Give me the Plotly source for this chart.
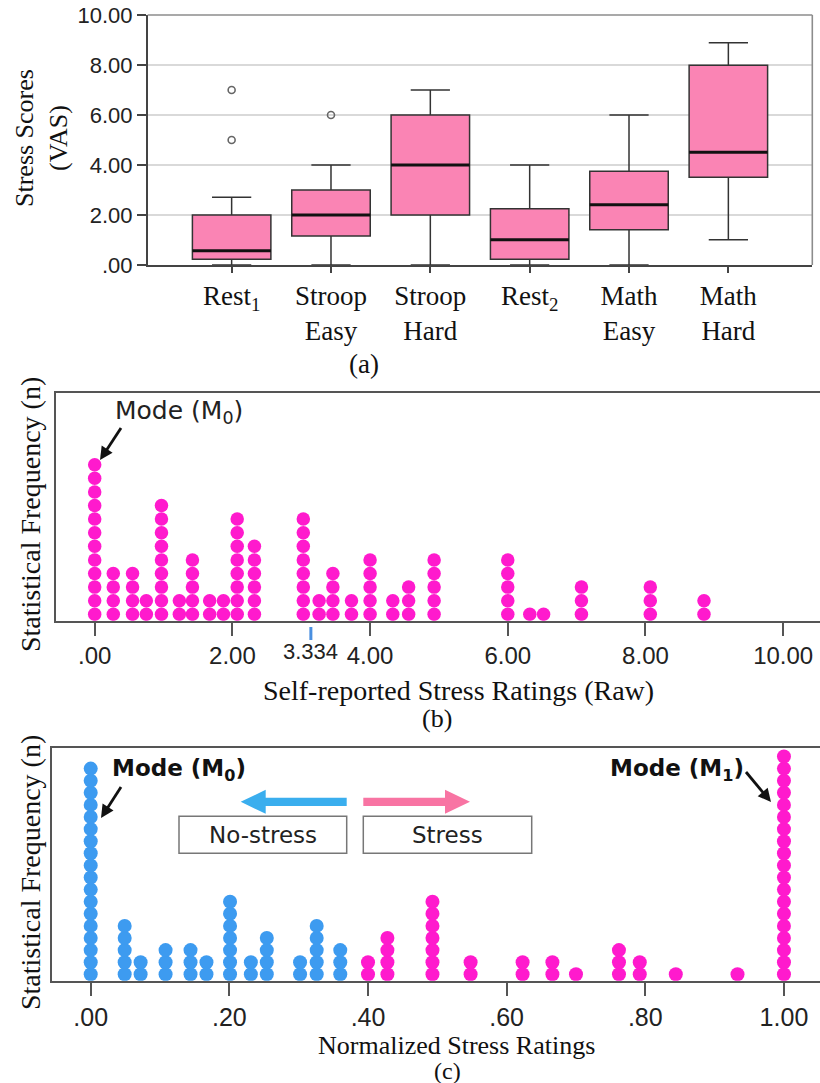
import math
import plotly.graph_objects as go

# ---------------- data ----------------
# Panel (a): box plot summary statistics
conditions = ["Rest<sub>1</sub>", "Stroop<br>Easy", "Stroop<br>Hard",
              "Rest<sub>2</sub>", "Math<br>Easy", "Math<br>Hard"]
box_q1 = [0.23, 1.16, 2.00, 0.23, 1.41, 3.51]
box_median = [0.57, 2.00, 4.00, 1.01, 2.41, 4.51]
box_q3 = [2.00, 3.00, 6.00, 2.25, 3.75, 7.99]
box_low = [0.00, 0.00, 0.00, 0.00, 0.00, 1.01]
box_high = [2.71, 4.00, 7.00, 4.00, 6.00, 8.89]
outlier_cond = [0, 0, 1]
outlier_vals = [7.0, 5.0, 6.0]
a_ticks = [0, 2, 4, 6, 8, 10]
a_ticktext = [".00", "2.00", "4.00", "6.00", "8.00", "10.00"]

# Panel (b): raw stress ratings (dot plot)
raw_values = [0.00, 0.27, 0.55, 0.75, 0.97, 1.23, 1.42, 1.67, 1.87, 2.07, 2.32,
              3.03, 3.26, 3.46, 3.73, 4.00, 4.33, 4.56, 4.93, 6.00, 6.32, 6.52,
              7.07, 8.07, 8.85]
raw_counts = [12, 4, 4, 2, 9, 2, 5, 2, 2, 8, 6,
              8, 2, 4, 2, 5, 2, 3, 5, 5, 1, 1,
              3, 3, 2]
b_ticks = [0, 2, 4, 6, 8, 10]
b_ticktext = [".00", "2.00", "4.00", "6.00", "8.00", "10.00"]
mean_mark_pos = 3.14
mean_mark_label = "3.334"

# Panel (c): normalized stress ratings (dot plot)
norm_values = [0.000, 0.049, 0.072, 0.108, 0.144, 0.167, 0.201, 0.231, 0.254,
               0.302, 0.326, 0.360, 0.400, 0.428, 0.493, 0.548, 0.623, 0.666,
               0.700, 0.762, 0.792, 0.844, 0.933, 1.000]
norm_counts = [18, 5, 2, 3, 3, 2, 7, 2, 4,
               2, 5, 3, 2, 4, 7, 2, 2, 2,
               1, 3, 2, 1, 1, 19]
norm_threshold = 0.38
c_ticks = [0, 0.2, 0.4, 0.6, 0.8, 1.0]
c_ticktext = [".00", ".20", ".40", ".60", ".80", "1.00"]

# ---------------- styling ----------------
W, H = 820, 1083
SERIF = "Liberation Serif"
SANS = "Liberation Sans"
GOTHIC = "DejaVu Sans"
PINK_BOX = "#FA84B4"
MAGENTA = "#FF1ACD"
BLUE = "#3D9BF0"
AXC = "#444444"


def px(x):
    return x / W


def py(y):
    return 1 - y / H


def stack(values, counts):
    xs, ys = [], []
    for v, c in zip(values, counts):
        for k in range(1, c + 1):
            xs.append(v)
            ys.append(k)
    return xs, ys


fig = go.Figure()

# ---- panel (a)
pos = list(range(len(conditions)))
BOXW = 0.79
fig.add_trace(go.Box(
    x=pos, q1=box_q1, median=box_median, q3=box_q3,
    lowerfence=box_low, upperfence=box_high,
    width=BOXW, whiskerwidth=0.5, fillcolor=PINK_BOX,
    line=dict(color="#333333", width=1.5), boxpoints=False,
    xaxis="x", yaxis="y", showlegend=False, hoverinfo="skip"))
mx, my = [], []
for p, m in zip(pos, box_median):
    mx += [p - BOXW / 2, p + BOXW / 2, None]
    my += [m, m, None]
fig.add_trace(go.Scatter(x=mx, y=my, mode="lines",
                         line=dict(color="#111111", width=3.2),
                         xaxis="x", yaxis="y", showlegend=False, hoverinfo="skip"))
fig.add_trace(go.Scatter(x=outlier_cond, y=outlier_vals, mode="markers",
                         marker=dict(symbol="circle-open", size=7, color="#666666",
                                     line=dict(width=1.6)),
                         xaxis="x", yaxis="y", showlegend=False, hoverinfo="skip"))

# ---- panel (b)
bx, by = stack(raw_values, raw_counts)
fig.add_trace(go.Scatter(x=bx, y=by, mode="markers",
                         marker=dict(size=13.5, color=MAGENTA, line=dict(width=0)),
                         xaxis="x2", yaxis="y2", showlegend=False, hoverinfo="skip"))

# ---- panel (c)
cx, cy = stack(norm_values, norm_counts)
ccol = [BLUE if v < norm_threshold else MAGENTA for v in cx]
fig.add_trace(go.Scatter(x=cx, y=cy, mode="markers",
                         marker=dict(size=14, color=ccol, line=dict(width=0)),
                         xaxis="x3", yaxis="y3", showlegend=False, hoverinfo="skip"))

tickfont_a = dict(family=SANS, size=22, color="#222222")
tickfont_bc = dict(family=SANS, size=24, color="#222222")

fig.update_layout(
    template="none",
    width=W, height=H, margin=dict(l=0, r=0, t=0, b=0, pad=0, autoexpand=False),
    paper_bgcolor="white", plot_bgcolor="white",
    xaxis=dict(domain=[px(147.7), px(812.3)], range=[-0.845, 5.845],
               tickvals=pos, ticktext=conditions,
               tickfont=dict(family=SERIF, size=27, color="#111111"),
               showline=True, linecolor=AXC, linewidth=1.6, mirror=False,
               ticks="outside", ticklen=6, tickcolor=AXC, tickwidth=1.5,
               showgrid=False, zeroline=False, anchor="y", automargin=False),
    yaxis=dict(domain=[py(265), py(15)], range=[0, 10],
               tickvals=a_ticks, ticktext=a_ticktext, tickfont=tickfont_a,
               showline=True, linecolor=AXC, linewidth=1.6, mirror=False,
               ticks="outside", ticklen=9, tickcolor=AXC, tickwidth=1.5,
               showgrid=True, gridcolor="#D9D9D9", gridwidth=1.5,
               zeroline=False, anchor="x", automargin=False),
    xaxis2=dict(domain=[px(56), 1.0], range=[-0.562, 10.535],
                tickvals=b_ticks, ticktext=b_ticktext, tickfont=tickfont_bc,
                showline=True, linecolor="#555555", linewidth=1.8, mirror=True,
                ticks="outside", ticklen=13, tickcolor="#555555", tickwidth=1.8,
                showgrid=False, zeroline=False, anchor="y2", automargin=False),
    yaxis2=dict(domain=[py(620.7), py(393.3)], range=[0.53, 17.25],
                showticklabels=False, ticks="", showgrid=False, zeroline=False,
                showline=True, linecolor="#555555", linewidth=1.8, anchor="x2",
                automargin=False),
    xaxis3=dict(domain=[px(52.3), 1.0], range=[-0.0554, 1.052],
                tickvals=c_ticks, ticktext=c_ticktext,
                tickfont=dict(family=SANS, size=25, color="#222222"),
                showline=True, linecolor="#555555", linewidth=1.8, mirror=True,
                ticks="outside", ticklen=13, tickcolor="#555555", tickwidth=1.8,
                showgrid=False, zeroline=False, anchor="y3", automargin=False),
    yaxis3=dict(domain=[py(980.7), py(748.3)], range=[0.47, 19.68],
                showticklabels=False, ticks="", showgrid=False, zeroline=False,
                showline=True, linecolor="#555555", linewidth=1.8, anchor="x3",
                automargin=False),
)

ann = []


def text(x, y, s, size, family=SERIF, angle=0, color="#111111", xanchor="center"):
    ann.append(dict(x=px(x), y=py(y), xref="paper", yref="paper", text=s,
                    showarrow=False, textangle=angle, xanchor=xanchor, yanchor="middle",
                    font=dict(family=family, size=size, color=color)))


# panel (a) texts
text(41, 138, "Stress Scores<br>(VAS)", 26, angle=-90)
text(364, 364, "(a)", 27)

# panel (b) texts
text(30, 515, "Statistical Frequency (n)", 28, angle=-90)
text(458, 690, "Self-reported Stress Ratings (Raw)", 28)
text(437, 718, "(b)", 26)
text(179, 412, "Mode (M<sub>0</sub>)", 25, family=GOTHIC, color="#222222")
ann.append(dict(x=mean_mark_pos, y=py(651.5), xref="x2", yref="paper", text=mean_mark_label,
                showarrow=False, yanchor="middle", xanchor="center",
                font=dict(family=SANS, size=22, color="#222222")))

# panel (c) texts
text(30, 873, "Statistical Frequency (n)", 28, angle=-90)
text(456, 1045, "Normalized Stress Ratings", 26)
text(447, 1071, "(c)", 24)
text(179, 770, "<b>Mode (M<sub>0</sub>)</b>", 23, family=GOTHIC)
text(677, 770, "<b>Mode (M<sub>1</sub>)</b>", 23, family=GOTHIC)
text(263, 835, "No-stress", 23, family=GOTHIC, color="#222222")
text(447, 835, "Stress", 23, family=GOTHIC, color="#222222")

fig.update_layout(annotations=ann)

shapes = []
# lighter top/right frame of panel (a)
shapes.append(dict(type="line", xref="paper", yref="paper", x0=px(147.7), x1=px(812.3),
                   y0=py(15), y1=py(15), line=dict(color="#8C8C8C", width=1.6)))
shapes.append(dict(type="line", xref="paper", yref="paper", x0=px(812.3), x1=px(812.3),
                   y0=py(15), y1=py(265), line=dict(color="#8C8C8C", width=1.6)))
# blue mean marker tick on panel (b)
shapes.append(dict(type="line", xref="x2", yref="paper", x0=mean_mark_pos, x1=mean_mark_pos,
                   y0=py(627), y1=py(640), line=dict(color="#4A8FE0", width=3)))


def poly_path(pts):
    return "M " + " L ".join(f"{px(a):.5f},{py(b):.5f}" for a, b in pts) + " Z"


def line_arrow(tip_x, tip_y, tail_x, tail_y, w=2.8, hl=13, hw=6.5, color="#111111"):
    dx, dy = tip_x - tail_x, tip_y - tail_y
    L = math.hypot(dx, dy)
    ux, uy = dx / L, dy / L
    bxp, byp = tip_x - ux * hl, tip_y - uy * hl
    nx, ny = -uy, ux
    shapes.append(dict(type="line", xref="paper", yref="paper",
                       x0=px(tail_x), y0=py(tail_y), x1=px(bxp + ux), y1=py(byp + uy),
                       line=dict(color=color, width=w)))
    shapes.append(dict(type="path", xref="paper", yref="paper",
                       path=poly_path([(tip_x, tip_y), (bxp + nx * hw, byp + ny * hw),
                                       (bxp - nx * hw, byp - ny * hw)]),
                       fillcolor=color, line=dict(width=0)))


line_arrow(100, 460, 121, 428)
line_arrow(101, 818, 121, 787)
line_arrow(771, 802, 746, 772)


def block_arrow(tail, tip, yc, color, half_shaft=4.1, half_head=12, head_len=25):
    d = 1 if tip > tail else -1
    base = tip - d * head_len
    pts = [(tail, yc - half_shaft), (base, yc - half_shaft), (base, yc - half_head),
           (tip, yc), (base, yc + half_head), (base, yc + half_shaft), (tail, yc + half_shaft)]
    shapes.append(dict(type="path", xref="paper", yref="paper", path=poly_path(pts),
                       fillcolor=color, line=dict(width=0)))


block_arrow(346.7, 240.7, 801.8, "#3AAEEE")
block_arrow(363.3, 470.0, 801.8, "#F874A3")
for x0, x1 in [(179, 346.7), (363.3, 531.7)]:
    shapes.append(dict(type="rect", xref="paper", yref="paper",
                       x0=px(x0), x1=px(x1), y0=py(853.3), y1=py(816.3),
                       line=dict(color="#777777", width=1.5), fillcolor="rgba(0,0,0,0)"))
fig.update_layout(shapes=shapes)

fig.write_html(
    "out.html",
    config={"displayModeBar": False},
    post_script="document.body.style.margin='0';document.body.style.overflow='hidden';",
)
